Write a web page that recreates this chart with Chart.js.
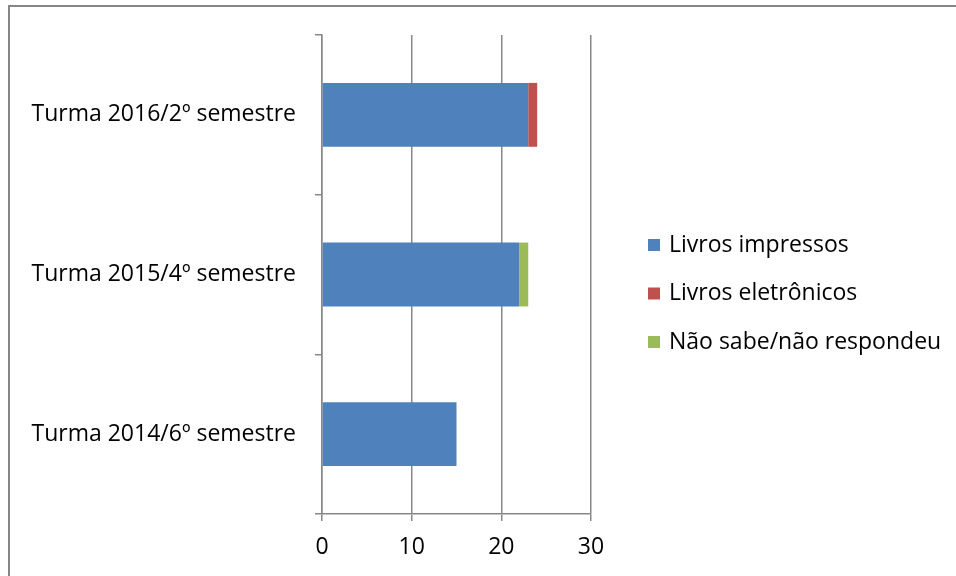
<!DOCTYPE html>
<html lang="pt">
<head>
  <meta charset="UTF-8">
  <title>Turmas - formato de livros</title>
  <script src="https://cdn.jsdelivr.net/npm/chart.js"></script>
  <style>
    html, body { margin: 0; padding: 0; background: #fff; overflow: hidden; }
    #frame {
      position: absolute; left: 8px; top: 5px; width: 1200px; height: 800px;
      border-left: 2px solid #868686; border-top: 2px solid #868686;
    }
    #wrap { position: absolute; left: 0; top: 0; width: 956px; height: 576px; }
  </style>
</head>
<body>
  <div id="frame"></div>
  <div id="wrap"><canvas id="chart" width="956" height="576"></canvas></div>

  <script>
    // Data
    const turmas = ['Turma 2016/2º semestre', 'Turma 2015/4º semestre', 'Turma 2014/6º semestre'];
    const livrosImpressos = [23, 22, 15];
    const livrosEletronicos = [1, 0, 0];
    const naoSabe = [0, 1, 0];
    const xTicks = [0, 10, 20, 30];

    const fontFamily = '"Open Sans", Lato, sans-serif';
    const fontSize = 23;
    const gray = '#888888';

    // legend drawn by hand: the built-in one is capped at a quarter of the width
    const sideLegend = {
      id: 'sideLegend',
      afterDraw(chart) {
        const ctx = chart.ctx;
        ctx.save();
        ctx.font = fontSize + 'px ' + fontFamily;
        ctx.textBaseline = 'middle';
        chart.data.datasets.forEach((ds, i) => {
          const y = 245 + i * 48.5;
          ctx.fillStyle = ds.backgroundColor;
          ctx.fillRect(648, y - 6, 12, 12);
          ctx.fillStyle = '#000';
          ctx.fillText(ds.label, 669, y);
        });
        ctx.restore();
      }
    };

    new Chart(document.getElementById('chart').getContext('2d'), {
      type: 'bar',
      data: {
        labels: turmas,
        datasets: [
          { label: 'Livros impressos', data: livrosImpressos, backgroundColor: '#4F81BD' },
          { label: 'Livros eletrônicos', data: livrosEletronicos, backgroundColor: '#C0504D' },
          { label: 'Não sabe/não respondeu', data: naoSabe, backgroundColor: '#9BBB59' }
        ]
      },
      options: {
        indexAxis: 'y',
        responsive: false,
        animation: false,
        layout: { padding: { left: 0, top: 35, right: 365, bottom: 0 } },
        datasets: { bar: { categoryPercentage: 0.8, barPercentage: 0.5 } },
        scales: {
          x: {
            stacked: true,
            min: xTicks[0],
            max: xTicks[xTicks.length - 1],
            afterBuildTicks: s => { s.ticks = xTicks.map(v => ({ value: v })); },
            afterFit: s => { s.height = 62; },
            ticks: { color: '#000', padding: 13, font: { family: fontFamily, size: fontSize } },
            grid: { color: gray, lineWidth: 1.5, tickLength: 7 },
            border: { color: gray, width: 1.5 }
          },
          y: {
            stacked: true,
            afterFit: s => { s.width = 322; },
            ticks: { color: '#000', padding: 19, font: { family: fontFamily, size: fontSize } },
            grid: { drawOnChartArea: false, color: gray, lineWidth: 1.5, tickLength: 7, offset: true },
            border: { color: gray, width: 1.5 }
          }
        },
        plugins: {
          title: { display: false },
          tooltip: { enabled: false },
          legend: { display: false }
        }
      },
      plugins: [sideLegend]
    });
  </script>
</body>
</html>
